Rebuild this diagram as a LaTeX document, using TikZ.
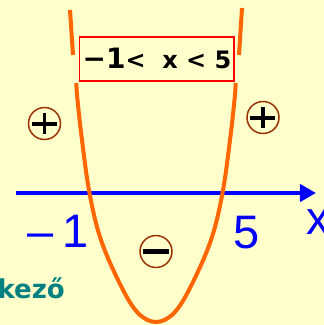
\documentclass[tikz,border=0pt]{standalone}
\usepackage{fontspec}
\setmainfont{Liberation Sans}
\newfontfamily\widesans{DejaVu Sans}
\usetikzlibrary{arrows.meta}

\definecolor{bgyellow}{HTML}{FFFFCC}
\definecolor{curveorange}{HTML}{FF6600}
\definecolor{axisblue}{HTML}{0000FF}
\definecolor{signbrown}{HTML}{993300}
\definecolor{wordteal}{HTML}{008080}

\begin{document}
\begin{tikzpicture}[
    x=1pt, y=-1pt,          % pixel grid, y downwards
    >={Triangle[length=16pt, width=17pt]},
    parab/.style={draw=curveorange, line width=4pt},
    axis/.style={->, draw=axisblue, line width=4.5pt},
    sign/.style={circle, draw=signbrown, line width=1.5pt, minimum size=32pt, inner sep=0pt},
    plussign/.style={sign, path picture={
        \draw[black, line width=4pt]
          ([xshift=-12.5pt]path picture bounding box.center) -- ([xshift=12.5pt]path picture bounding box.center)
          ([yshift=-10.5pt]path picture bounding box.center) -- ([yshift=10.5pt]path picture bounding box.center);}},
    minussign/.style={sign, path picture={
        \draw[black, line width=5pt]
          ([xshift=-13pt]path picture bounding box.center) -- ([xshift=13pt]path picture bounding box.center);}},
    lbl/.style={text=axisblue, font=\fontsize{47}{50}\selectfont, inner sep=0pt},
    rangebox/.style={draw=red, line width=1.5pt, minimum width=154.5pt, minimum height=44pt,
                  text height=22pt, text depth=4pt, inner sep=0pt,
                  font=\widesans\bfseries\fontsize{24}{26}\selectfont}
]

    % --- background ---
    \fill[bgyellow] (0,0) rectangle (324,325);
    \useasboundingbox (0,0) rectangle (324,325);

    % --- number line ---
    \coordinate (ax0) at (16,193);
    \coordinate (ax1) at (316,193);
    \draw[axis] (ax0) -- (ax1);

    % --- parabola (broken behind the box) ---
    \draw[parab] (70,10) -- (73,55);
    \draw[parab] (242,8) -- (239,55);
    \draw[parab] plot[smooth, tension=0.6] coordinates {
        (76.3,83) (77.5,100) (82,140) (89.5,193) (101,240) (121,286) (138,313) (156,322)
        (174,313) (191,286) (211,240) (222.5,193) (230,140) (234.5,100) (235.7,83)};

    % --- solution ---
    \node[rangebox] (ineq) at (157,59) {{\fontsize{28}{30}\selectfont −1}<\ \ x < 5};

    % --- signs ---
    \node[plussign] (posl) at (44.5,123.5) {};
    \node[plussign] (posr) at (263,117.5) {};
    \node[minussign] (neg) at (156,251.5) {};

    % --- roots and axis name ---
    \node[lbl, anchor=base east] (rootl) at (89,247) {–\hspace{9pt}1};
    \node[lbl, anchor=base west] (rootr) at (233,248) {5};
    \node[lbl, anchor=base west] (xname) at (306,234.5) {x};

    % --- cut word ---
    \node[anchor=base east, inner sep=0pt, text=wordteal,
          font=\widesans\bfseries\fontsize{26}{28}\selectfont] (word) at (65,298.5) {kező};

\end{tikzpicture}
\end{document}
